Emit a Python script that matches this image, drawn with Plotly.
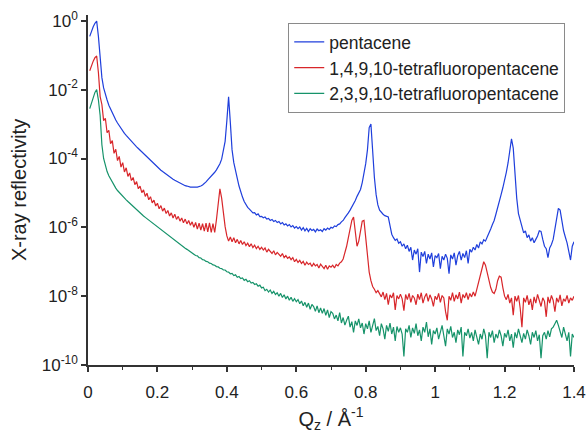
import plotly.graph_objects as go

# Q_z sampling grid (Å^-1), 0.005 step from 0.005 to 1.400
q = [round(0.005 * k, 3) for k in range(1, 281)]

# log10 of X-ray reflectivity
pentacene_log = [
    -0.45, -0.30, -0.17, -0.07, -0.01, -0.45, -1.20, -1.65, -1.95, -2.15, -2.30, -2.45, -2.57, -2.68, -2.78, -2.88, -2.97, -3.05, -3.13, -3.20,
    -3.27, -3.33, -3.39, -3.45, -3.51, -3.56, -3.61, -3.66, -3.71, -3.76, -3.81, -3.86, -3.91, -3.96, -4.01, -4.06, -4.11, -4.16, -4.21, -4.26,
    -4.30, -4.34, -4.38, -4.42, -4.46, -4.50, -4.54, -4.57, -4.60, -4.63, -4.66, -4.69, -4.72, -4.74, -4.77, -4.79, -4.80, -4.82, -4.83, -4.83,
    -4.84, -4.83, -4.83, -4.82, -4.80, -4.77, -4.73, -4.68, -4.62, -4.57, -4.50, -4.45, -4.40, -4.33, -4.25, -4.15, -4.02, -3.72, -3.50, -2.90,
    -2.21, -2.95, -3.75, -4.12, -4.40, -4.58, -4.80, -4.98, -5.12, -5.25, -5.34, -5.42, -5.47, -5.52, -5.58, -5.57, -5.64, -5.61, -5.69, -5.68,
    -5.72, -5.70, -5.76, -5.74, -5.80, -5.77, -5.83, -5.80, -5.86, -5.83, -5.90, -5.86, -5.93, -5.90, -5.96, -5.92, -5.99, -5.95, -6.02, -5.98,
    -6.04, -5.99, -6.08, -6.01, -6.10, -6.03, -6.12, -6.04, -6.09, -6.06, -6.13, -6.05, -6.10, -6.07, -6.12, -6.04, -6.08, -6.02, -6.06, -6.00,
    -6.02, -5.96, -5.98, -5.92, -5.90, -5.84, -5.80, -5.72, -5.66, -5.58, -5.50, -5.42, -5.33, -5.22, -5.10, -5.00, -4.90, -4.70, -4.45, -4.15,
    -3.75, -3.10, -3.00, -3.85, -4.55, -5.05, -5.35, -5.50, -5.58, -5.62, -5.66, -5.68, -5.70, -5.95, -6.20, -6.30, -6.38, -6.34, -6.46, -6.42,
    -6.55, -6.48, -6.62, -6.52, -6.70, -6.58, -6.95, -6.66, -6.78, -6.62, -7.30, -6.72, -6.85, -6.70, -7.05, -6.78, -6.92, -6.74, -7.15, -6.82,
    -6.88, -6.76, -7.20, -6.84, -6.95, -6.78, -6.90, -7.35, -6.80, -6.92, -6.74, -7.10, -6.82, -6.70, -6.95, -6.76, -6.88, -6.68, -7.05, -6.64,
    -6.72, -6.58, -6.66, -6.50, -6.60, -6.42, -6.48, -6.36, -6.40, -6.28, -6.18, -6.05, -5.92, -5.80, -5.62, -5.45, -5.25, -5.05, -4.85, -4.65,
    -4.40, -4.13, -3.80, -3.43, -3.70, -4.45, -5.15, -5.60, -5.80, -6.00, -6.16, -6.10, -6.30, -6.22, -6.40, -6.30, -6.45, -6.35, -6.25, -6.10,
    -6.12, -6.35, -6.55, -6.62, -6.88, -6.60, -6.50, -6.35, -6.00, -5.65, -5.45, -5.50, -5.85, -6.10, -6.28, -6.45, -6.70, -6.95, -6.55, -6.42,
]

tfp1491_log = [
    -1.45, -1.30, -1.17, -1.07, -1.02, -1.50, -2.20, -2.43, -2.90, -2.83, -3.25, -3.18, -3.57, -3.48, -3.85, -3.73, -4.06, -3.94, -4.25, -4.12,
    -4.39, -4.27, -4.52, -4.42, -4.64, -4.55, -4.76, -4.67, -4.88, -4.80, -4.99, -4.91, -5.10, -5.01, -5.20, -5.11, -5.29, -5.21, -5.38, -5.30,
    -5.46, -5.37, -5.53, -5.44, -5.60, -5.51, -5.67, -5.58, -5.73, -5.62, -5.77, -5.68, -5.82, -5.73, -5.87, -5.76, -5.90, -5.80, -5.94, -5.84,
    -6.00, -5.86, -6.05, -5.88, -6.08, -5.89, -6.11, -5.88, -6.13, -5.87, -6.15, -5.89, -6.15, -5.78, -5.40, -4.88, -5.15, -5.65, -5.98, -6.25,
    -6.40, -6.28, -6.42, -6.30, -6.45, -6.35, -6.48, -6.38, -6.50, -6.42, -6.53, -6.46, -6.56, -6.48, -6.59, -6.52, -6.62, -6.55, -6.64, -6.58,
    -6.66, -6.60, -6.72, -6.64, -6.70, -6.76, -6.68, -6.80, -6.73, -6.78, -6.84, -6.76, -6.88, -6.82, -6.90, -6.86, -6.94, -6.88, -7.00, -6.93,
    -7.02, -6.96, -7.05, -6.99, -7.10, -7.01, -7.08, -7.04, -7.14, -7.05, -7.12, -7.08, -7.18, -7.07, -7.14, -7.20, -7.10, -7.22, -7.12, -7.16,
    -7.10, -7.18, -7.08, -7.12, -7.04, -7.00, -6.92, -6.75, -6.55, -6.30, -6.05, -5.80, -5.70, -6.05, -6.55, -6.40, -6.05, -5.82, -5.80, -6.30,
    -6.85, -7.30, -7.55, -7.72, -7.80, -7.90, -7.84, -7.95, -8.02, -7.88, -8.10, -7.92, -8.25, -7.96, -8.05, -7.90, -8.40, -7.98, -8.08, -7.94,
    -8.08, -8.42, -7.95, -8.10, -7.92, -8.18, -7.98, -8.05, -8.25, -7.94, -8.10, -7.90, -8.20, -8.02, -7.92, -8.15, -7.96, -8.08, -8.30, -8.00,
    -8.10, -7.92, -8.18, -7.98, -8.05, -8.45, -8.70, -8.00, -8.12, -7.90, -8.15, -7.96, -8.08, -7.88, -8.20, -7.95, -8.05, -7.90, -8.10, -7.92,
    -8.02, -7.88, -8.00, -7.80, -7.60, -7.40, -7.15, -7.00, -7.10, -7.35, -7.55, -7.75, -7.88, -7.92, -7.80, -7.55, -7.42, -7.45, -7.75, -8.00,
    -8.10, -7.95, -8.20, -8.05, -8.55, -8.00, -8.15, -7.98, -8.35, -8.90, -8.05, -8.18, -7.98, -8.25, -8.08, -8.40, -8.02, -8.20, -7.95, -8.12,
    -8.30, -8.05, -8.15, -8.60, -8.02, -8.20, -7.98, -8.12, -8.45, -8.05, -8.18, -7.96, -8.28, -8.08, -8.15, -7.98, -8.20, -8.05, -8.12, -8.00,
]

tfp2391_log = [
    -2.55, -2.40, -2.22, -2.08, -2.00, -2.30, -2.75, -3.60, -4.00, -4.20, -4.38, -4.50, -4.60, -4.70, -4.78, -4.86, -4.93, -4.99, -5.05, -5.10,
    -5.15, -5.20, -5.25, -5.30, -5.35, -5.40, -5.45, -5.50, -5.55, -5.59, -5.63, -5.67, -5.71, -5.75, -5.79, -5.83, -5.87, -5.91, -5.95, -5.99,
    -6.03, -6.07, -6.11, -6.15, -6.19, -6.23, -6.27, -6.31, -6.35, -6.39, -6.43, -6.47, -6.50, -6.54, -6.57, -6.61, -6.64, -6.68, -6.71, -6.75,
    -6.78, -6.82, -6.83, -6.88, -6.89, -6.94, -6.95, -6.99, -7.00, -7.04, -7.05, -7.09, -7.10, -7.14, -7.15, -7.19, -7.20, -7.24, -7.24, -7.29,
    -7.30, -7.35, -7.34, -7.40, -7.38, -7.45, -7.43, -7.49, -7.47, -7.54, -7.51, -7.58, -7.55, -7.62, -7.60, -7.66, -7.64, -7.71, -7.68, -7.76,
    -7.74, -7.84, -7.80, -7.88, -7.82, -7.92, -7.86, -7.95, -7.90, -8.00, -7.92, -8.04, -7.96, -8.08, -8.00, -8.12, -8.03, -8.15, -8.07, -8.16,
    -8.10, -8.22, -8.14, -8.28, -8.18, -8.32, -8.20, -8.38, -8.24, -8.30, -8.44, -8.28, -8.48, -8.34, -8.50, -8.36, -8.56, -8.40, -8.62, -8.45,
    -8.50, -8.66, -8.55, -8.72, -8.48, -8.78, -8.62, -8.84, -8.70, -8.58, -8.90, -8.74, -9.05, -8.72, -8.85, -8.66, -8.92, -8.78, -9.10, -8.80,
    -8.95, -8.72, -9.05, -8.85, -8.65, -9.00, -8.88, -9.15, -8.80, -8.95, -9.25, -8.85, -9.02, -8.78, -9.10, -8.90, -9.30, -8.88, -9.05, -8.92,
    -9.10, -9.75, -8.95, -9.05, -8.85, -9.20, -8.92, -9.08, -8.80, -9.15, -8.98, -9.30, -8.90, -9.05, -8.75, -9.18, -8.95, -9.40, -9.00, -9.10,
    -8.92, -9.25, -9.02, -8.85, -9.15, -9.45, -8.95, -9.10, -8.88, -9.20, -9.05, -9.35, -8.98, -9.12, -8.90, -9.75, -9.05, -9.15, -8.95, -9.22,
    -9.05, -9.30, -8.98, -9.18, -9.40, -9.10, -9.25, -8.95, -9.15, -9.80, -9.05, -9.20, -9.00, -9.35, -9.10, -9.22, -8.98, -9.15, -9.45, -9.08,
    -9.20, -8.98, -9.30, -9.10, -9.50, -9.05, -9.22, -8.95, -9.18, -9.35, -9.08, -9.25, -8.98, -9.15, -9.40, -9.05, -9.20, -9.00, -9.30, -9.12,
    -9.80, -9.15, -9.05, -9.25, -9.00, -9.18, -8.95, -8.90, -8.80, -8.70, -8.85, -9.05, -9.20, -8.90, -9.15, -9.30, -9.05, -9.75, -9.10, -9.20,
]

series_names = ["pentacene", "1,4,9,10-tetrafluoropentacene", "2,3,9,10-tetrafluoropentacene"]
series_logs = [pentacene_log, tfp1491_log, tfp2391_log]
series_colors = ["#1f3fdc", "#d8262a", "#16936a"]

y_tick_vals = [1e-10, 1e-8, 1e-6, 1e-4, 1e-2, 1]
y_tick_text = ["10<sup>-10</sup>", "10<sup>-8</sup>", "10<sup>-6</sup>", "10<sup>-4</sup>", "10<sup>-2</sup>", "10<sup>0</sup>"]
x_tick_vals = [0, 0.2, 0.4, 0.6, 0.8, 1.0, 1.2, 1.4]
x_tick_text = ["0", "0.2", "0.4", "0.6", "0.8", "1", "1.2", "1.4"]

FONT = "Liberation Sans, Arial, sans-serif"

fig = go.Figure()
for name, logs, color in zip(series_names, series_logs, series_colors):
    fig.add_trace(go.Scatter(
        x=q, y=[10 ** v for v in logs], mode="lines", name=name,
        line=dict(color=color, width=1.2),
    ))

fig.update_layout(
    width=588, height=433,
    margin=dict(l=88, r=14, t=15, b=68),
    paper_bgcolor="white", plot_bgcolor="white",
    font=dict(family=FONT, size=17, color="#222222"),
    showlegend=True,
    legend=dict(
        x=0.412, y=0.977, xanchor="left", yanchor="top",
        bgcolor="white", bordercolor="#8a8a8a", borderwidth=1,
        font=dict(family=FONT, size=17.5, color="#222222"),
        tracegroupgap=0, itemwidth=30,
    ),
)

fig.update_xaxes(
    range=[0, 1.4], showgrid=False, zeroline=False, automargin=False,
    showline=True, linecolor="#333333", linewidth=1.5,
    ticks="outside", ticklen=5, tickwidth=1.5, tickcolor="#333333",
    tickvals=x_tick_vals, ticktext=x_tick_text,
    tickfont=dict(size=17),
    ticklabelstandoff=6,
    minor=dict(dtick=0.1, ticks="outside", ticklen=3, tickwidth=1.2, tickcolor="#333333"),
    title=dict(text="Q<sub>z</sub> / Å<sup>-1</sup>", font=dict(size=20), standoff=12),
)

fig.update_yaxes(
    type="log", range=[-10, 0.17], showgrid=False, zeroline=False, automargin=False,
    showline=True, linecolor="#333333", linewidth=1.5,
    ticks="outside", ticklen=5, tickwidth=1.5, tickcolor="#333333",
    tickvals=y_tick_vals, ticktext=y_tick_text,
    tickfont=dict(size=17),
    title=dict(text="X-ray reflectivity", font=dict(size=20), standoff=10),
)

fig.write_html("out.html")
